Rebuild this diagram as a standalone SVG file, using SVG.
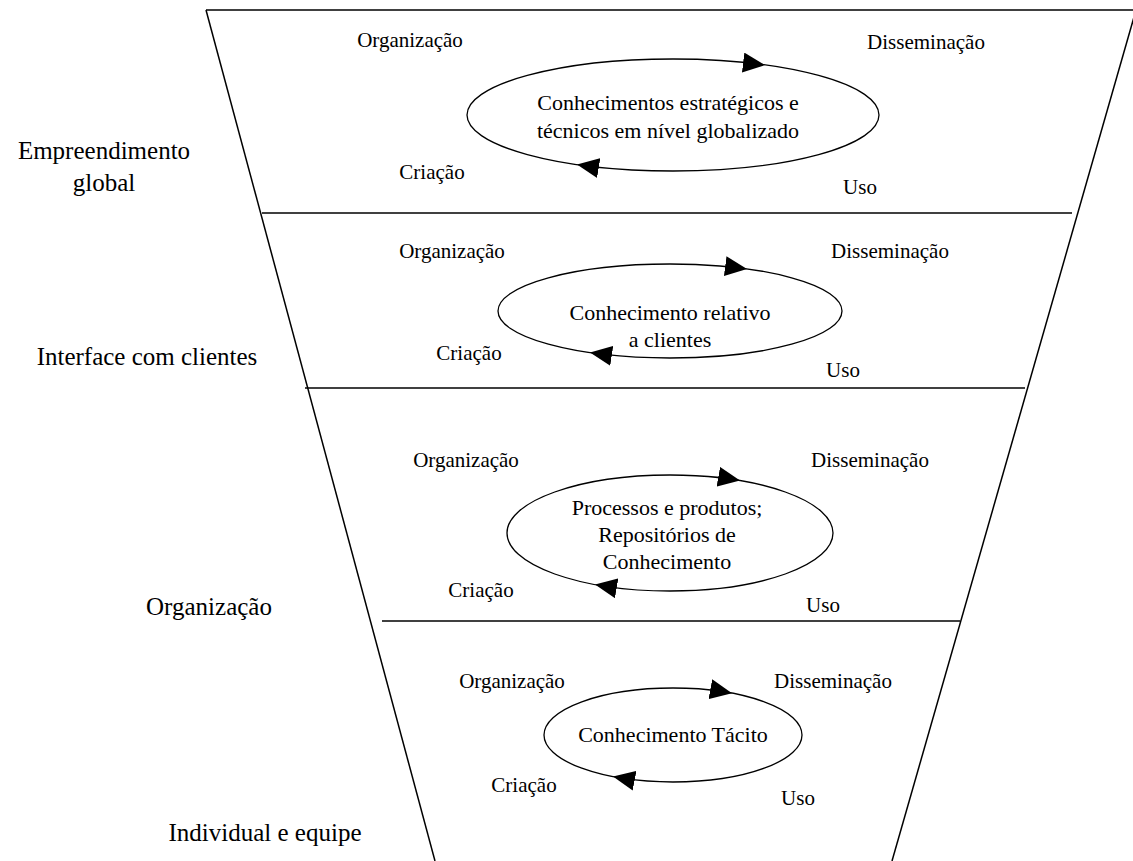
<svg xmlns="http://www.w3.org/2000/svg" width="1133" height="861" viewBox="0 0 1133 861" font-family="'Liberation Serif', 'DejaVu Serif', serif">
  <defs>
    <style>
      .frame { fill: none; stroke: #000; stroke-width: 1.5; }
      .cycle { fill: none; stroke: #000; stroke-width: 1.3; }
      .lbl { font-size: 21px; fill: #000; text-anchor: middle; }
      .core { font-size: 22px; fill: #000; text-anchor: middle; }
      .level { font-size: 25px; fill: #000; text-anchor: middle; }
    </style>
    <marker id="head" markerUnits="userSpaceOnUse" markerWidth="22" markerHeight="20" refX="22" refY="10" orient="auto">
      <path d="M0,0 L22,10 L0,20 Z" fill="#000"/>
    </marker>
  </defs>

  <!-- inverted funnel outline and level dividers -->
  <g id="funnel" class="frame">
    <line x1="206" y1="10" x2="1133" y2="10"/>
    <line x1="206" y1="10" x2="435" y2="861"/>
    <line x1="1136" y1="10" x2="892" y2="861"/>
    <line x1="262" y1="213" x2="1072" y2="213"/>
    <line x1="305" y1="388" x2="1025" y2="388"/>
    <line x1="382" y1="621" x2="960" y2="621"/>
  </g>

  <!-- level names on the left -->
  <g id="levels" class="level">
    <text x="104" y="159">Empreendimento</text>
    <text x="104" y="191">global</text>
    <text x="147" y="365">Interface com clientes</text>
    <text x="209" y="615">Organização</text>
    <text x="265" y="841">Individual e equipe</text>
  </g>

  <!-- knowledge cores -->
  <g id="core-global">
    <ellipse cx="673" cy="115" rx="206" ry="56" class="cycle"/>
    <text class="core" x="668" y="110">Conhecimentos estratégicos e</text>
    <text class="core" x="668" y="138">técnicos em nível globalizado</text>
  </g>
  <g id="core-clientes">
    <ellipse cx="670" cy="311" rx="172" ry="47" class="cycle"/>
    <text class="core" x="670" y="320">Conhecimento relativo</text>
    <text class="core" x="670" y="347">a clientes</text>
  </g>
  <g id="core-organizacao">
    <ellipse cx="670" cy="533" rx="163" ry="58" class="cycle"/>
    <text class="core" x="667" y="515">Processos e produtos;</text>
    <text class="core" x="667" y="542">Repositórios de</text>
    <text class="core" x="667" y="569">Conhecimento</text>
  </g>
  <g id="core-individual">
    <ellipse cx="673" cy="735" rx="129" ry="47" class="cycle"/>
    <text class="core" x="673" y="742">Conhecimento Tácito</text>
  </g>

  <!-- cycle stage labels -->
  <g id="stages-global" class="lbl">
    <text x="410" y="47">Organização</text>
    <text x="926" y="49">Disseminação</text>
    <text x="432" y="179">Criação</text>
    <text x="860" y="194">Uso</text>
  </g>
  <g id="stages-clientes" class="lbl">
    <text x="452" y="258">Organização</text>
    <text x="890" y="258">Disseminação</text>
    <text x="469" y="360">Criação</text>
    <text x="843" y="377">Uso</text>
  </g>
  <g id="stages-organizacao" class="lbl">
    <text x="466" y="467">Organização</text>
    <text x="870" y="467">Disseminação</text>
    <text x="481" y="597">Criação</text>
    <text x="823" y="612">Uso</text>
  </g>
  <g id="stages-individual" class="lbl">
    <text x="512" y="688">Organização</text>
    <text x="833" y="688">Disseminação</text>
    <text x="524" y="792">Criação</text>
    <text x="798" y="805">Uso</text>
  </g>

  <!-- arrowheads marking the direction of each cycle -->
  <g id="connectors" fill="none" stroke="none">
    <path d="M577,164.5 A206,56 0 0 1 765,65.1" marker-end="url(#head)"/>
    <path d="M765,65.1 A206,56 0 1 1 577,164.5" marker-end="url(#head)"/>
    <path d="M590,352.6 A172,47 0 0 1 747,269" marker-end="url(#head)"/>
    <path d="M747,269 A172,47 0 1 1 590,352.6" marker-end="url(#head)"/>
    <path d="M595,584.5 A163,58 0 0 1 740,480.6" marker-end="url(#head)"/>
    <path d="M740,480.6 A163,58 0 1 1 595,584.5" marker-end="url(#head)"/>
    <path d="M613,776.6 A129,47 0 0 1 732,693.2" marker-end="url(#head)"/>
    <path d="M732,693.2 A129,47 0 1 1 613,776.6" marker-end="url(#head)"/>
  </g>
</svg>
